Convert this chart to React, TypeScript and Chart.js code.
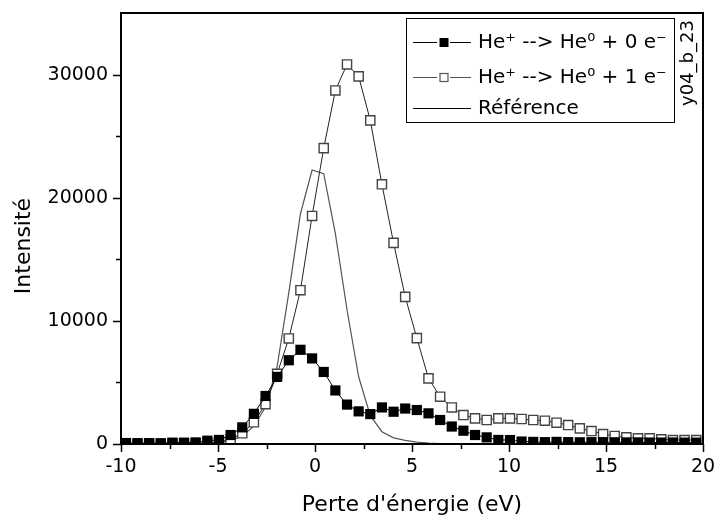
import React, { useEffect, useRef } from "react";
import { Chart, registerables } from "chart.js";

Chart.register(...registerables);

const FONT = "'DejaVu Sans', sans-serif";

// Energy loss (eV) sampling of the two measured series
const energies = [
  -9.75, -9.15, -8.55, -7.95, -7.35, -6.75, -6.15, -5.55, -4.95, -4.35,
  -3.75, -3.15, -2.55, -1.95, -1.35, -0.75, -0.15, 0.45, 1.05, 1.65,
  2.25, 2.85, 3.45, 4.05, 4.65, 5.25, 5.85, 6.45, 7.05, 7.65,
  8.25, 8.85, 9.45, 10.05, 10.65, 11.25, 11.85, 12.45, 13.05, 13.65,
  14.25, 14.85, 15.45, 16.05, 16.65, 17.25, 17.85, 18.45, 19.05, 19.65,
];

// He+ --> He0 + 0 e-
const zeroElectron = [
  80, 70, 70, 60, 110, 110, 130, 270, 330, 730,
  1350, 2450, 3900, 5450, 6800, 7650, 6950, 5850, 4350, 3200,
  2650, 2430, 2970, 2620, 2880, 2760, 2490, 1950, 1420, 1080,
  730, 540, 330, 320, 200, 170, 150, 170, 150, 140,
  150, 150, 140, 130, 130, 120, 120, 120, 110, 110,
];

// He+ --> He0 + 1 e-
const oneElectron = [
  20, 20, 20, 20, 30, 30, 50, 90, 160, 380,
  870, 1760, 3240, 5700, 8570, 12490, 18520, 24030, 28710, 30820,
  29850, 26280, 21090, 16330, 11950, 8600, 5330, 3840, 2970, 2350,
  2080, 1950, 2080, 2080, 2030, 1950, 1890, 1730, 1540, 1270,
  1050, 810, 650, 540, 460, 460, 380, 320, 320, 320,
];

// Référence
const refEnergies = [
  -6.15, -5.55, -4.95, -4.35, -3.75, -3.15, -2.55, -1.95, -1.35, -0.75,
  -0.15, 0.45, 1.05, 1.65, 2.25, 2.85, 3.45, 4.05, 4.65, 5.25, 5.85, 6.45,
];
const reference = [
  30, 60, 120, 280, 650, 1450, 3000, 6300, 12300, 18700,
  22250, 21950, 17080, 10900, 5460, 2300, 1000, 500, 300, 160, 80, 30,
];

const xTicks = [-10, -5, 0, 5, 10, 15, 20];
const xMinorTicks = [-7.5, -2.5, 2.5, 7.5, 12.5, 17.5];
const yTicks = [0, 10000, 20000, 30000];
const yMinorTicks = [5000, 15000, 25000];

const seriesLabels = ["He\u207A --> He\u2070 + 0 e\u207B", "He\u207A --> He\u2070 + 1 e\u207B", "Référence"];
const xTitle = "Perte d'énergie (eV)";
const yTitle = "Intensité";
const tag = "y04_b_23";

const zeroPad = (s: any) => {
  s.paddingTop = 0;
  s.paddingBottom = 0;
  s.paddingLeft = 0;
  s.paddingRight = 0;
};

const decorPlugin = {
  id: "decor",
  afterDraw(chart: any) {
    const { ctx, chartArea } = chart;
    const xs = chart.scales.x;
    const ys = chart.scales.y;
    const { left, right, top, bottom } = chartArea;
    ctx.save();
    ctx.strokeStyle = "#000";
    ctx.fillStyle = "#000";
    // ticks
    ctx.lineWidth = 1.5;
    ctx.beginPath();
    xTicks.forEach((v) => {
      const px = Math.round(xs.getPixelForValue(v)) + 0.5;
      ctx.moveTo(px, bottom);
      ctx.lineTo(px, bottom + 8);
    });
    xMinorTicks.forEach((v) => {
      const px = Math.round(xs.getPixelForValue(v)) + 0.5;
      ctx.moveTo(px, bottom);
      ctx.lineTo(px, bottom + 5);
    });
    yTicks.forEach((v) => {
      const py = Math.round(ys.getPixelForValue(v)) + 0.5;
      ctx.moveTo(left, py);
      ctx.lineTo(left - 8, py);
    });
    yMinorTicks.forEach((v) => {
      const py = Math.round(ys.getPixelForValue(v)) + 0.5;
      ctx.moveTo(left, py);
      ctx.lineTo(left - 5, py);
    });
    ctx.stroke();
    // frame
    ctx.lineWidth = 2;
    ctx.strokeRect(left, top, right - left, bottom - top);

    // axis titles
    ctx.font = `22px ${FONT}`;
    ctx.textAlign = "center";
    ctx.textBaseline = "middle";
    ctx.fillText(xTitle, (left + right) / 2, 505);
    ctx.save();
    ctx.translate(24, 246);
    ctx.rotate(-Math.PI / 2);
    ctx.fillText(yTitle, 0, 0);
    ctx.restore();

    // tag
    ctx.save();
    ctx.font = `18px ${FONT}`;
    ctx.translate(688, 63);
    ctx.rotate(-Math.PI / 2);
    ctx.fillText(tag, 0, 0);
    ctx.restore();

    // legend
    const bx = 406.5, by = 18.5, bw = 268, bh = 104;
    ctx.fillStyle = "#fff";
    ctx.fillRect(bx, by, bw, bh);
    ctx.lineWidth = 1;
    ctx.strokeStyle = "#000";
    ctx.strokeRect(bx, by, bw, bh);
    const rows = [42, 77, 108];
    const lineColors = ["#000", "#555", "#000"];
    rows.forEach((ry, i) => {
      ctx.strokeStyle = lineColors[i];
      ctx.lineWidth = 1.2;
      ctx.beginPath();
      if (i < 2) {
        ctx.moveTo(413, ry + 0.5);
        ctx.lineTo(437, ry + 0.5);
        ctx.moveTo(450, ry + 0.5);
        ctx.lineTo(471, ry + 0.5);
      } else {
        ctx.moveTo(413, ry + 0.5);
        ctx.lineTo(471, ry + 0.5);
      }
      ctx.stroke();
      if (i === 0) {
        ctx.fillStyle = "#000";
        ctx.fillRect(439.5, ry - 4, 9, 9);
      } else if (i === 1) {
        ctx.fillStyle = "#fff";
        ctx.fillRect(440, ry - 3.5, 8, 8);
        ctx.strokeStyle = "#555";
        ctx.lineWidth = 1.2;
        ctx.strokeRect(440, ry - 3.5, 8, 8);
      }
      ctx.fillStyle = "#000";
      ctx.font = `20px ${FONT}`;
      ctx.textAlign = "left";
      ctx.textBaseline = "middle";
      ctx.fillText(seriesLabels[i], 478, ry + 1);
    });
    ctx.restore();
  },
};

export default function App() {
  const canvasRef = useRef<HTMLCanvasElement>(null);
  useEffect(() => {
    const canvas = canvasRef.current;
    if (!canvas) return;
    const chart = new Chart(canvas, {
      type: "line",
      data: {
        datasets: [
          {
            label: seriesLabels[0],
            data: energies.map((x, i) => ({ x, y: zeroElectron[i] })),
            borderColor: "#000",
            borderWidth: 1,
            pointStyle: "rect",
            pointRadius: 7.2,
            pointBackgroundColor: "#000",
            pointBorderWidth: 0,
            tension: 0,
            order: 0,
          },
          {
            label: seriesLabels[1],
            data: energies.map((x, i) => ({ x, y: oneElectron[i] })),
            borderColor: "#222",
            borderWidth: 1,
            pointStyle: "rect",
            pointRadius: 6.5,
            pointBackgroundColor: "#fff",
            pointBorderColor: "#444",
            pointBorderWidth: 1.4,
            tension: 0,
            order: 1,
          },
          {
            label: seriesLabels[2],
            data: refEnergies.map((x, i) => ({ x, y: reference[i] })),
            borderColor: "#555",
            borderWidth: 1.2,
            pointRadius: 0,
            tension: 0,
            order: 2,
          },
        ],
      },
      options: {
        responsive: false,
        animation: false,
        layout: { padding: { top: 13, right: 12, left: 0, bottom: 0 } },
        plugins: {
          legend: { display: false },
          tooltip: { enabled: false },
          title: { display: false },
        },
        scales: {
          x: {
            type: "linear",
            min: -10,
            max: 20,
            afterFit: (s: any) => {
              s.height = 81;
              zeroPad(s);
            },
            afterBuildTicks: (s: any) => {
              s.ticks = xTicks.map((v) => ({ value: v }));
            },
            grid: { display: false, drawTicks: false },
            border: { display: false },
            ticks: {
              padding: 12,
              color: "#000",
              font: { family: FONT, size: 19 },
              maxRotation: 0,
              callback: (v: any) => String(v),
            },
          },
          y: {
            type: "linear",
            min: 0,
            max: 35000,
            afterFit: (s: any) => {
              s.width = 121;
              zeroPad(s);
            },
            afterBuildTicks: (s: any) => {
              s.ticks = yTicks.map((v) => ({ value: v }));
            },
            grid: { display: false, drawTicks: false },
            border: { display: false },
            ticks: {
              padding: 13,
              color: "#000",
              font: { family: FONT, size: 19 },
              callback: (v: any) => String(v),
            },
          },
        },
      },
      plugins: [decorPlugin],
    });
    return () => chart.destroy();
  }, []);
  return (
    <div style={{ position: "fixed", left: 0, top: 0, width: 715, height: 525, background: "#fff" }}>
      <canvas ref={canvasRef} width={715} height={525} style={{ display: "block" }} />
    </div>
  );
}
